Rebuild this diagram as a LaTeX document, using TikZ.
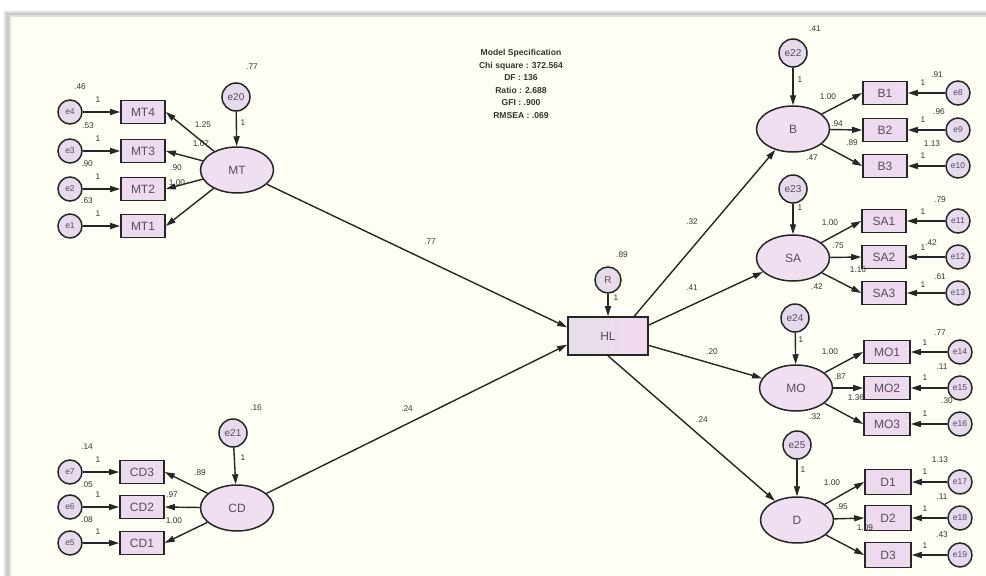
\documentclass[tikz,border=0pt]{standalone}
\usepackage{fontspec}
\setmainfont{Liberation Sans}
\usetikzlibrary{shapes.geometric,arrows.meta}
\definecolor{cream}{HTML}{FFFEF4}
\definecolor{latfill}{HTML}{F0DFF0}
\definecolor{obsfill}{HTML}{EEDAEE}
\definecolor{errfill}{HTML}{E6DAEC}
\definecolor{edgecol}{HTML}{262626}
\definecolor{txtcol}{HTML}{5A4A60}
\definecolor{lblcol}{HTML}{353535}
\definecolor{framegray}{HTML}{C9C9C9}
\definecolor{HLleft}{HTML}{E4DFE8}
\definecolor{HLright}{HTML}{F3D9F0}
\begin{document}
\begin{tikzpicture}[x=1pt,y=-1pt,
 lat/.style={ellipse,draw=edgecol,line width=1.5pt,fill=latfill,minimum width=73pt,minimum height=46pt,inner sep=0pt,text=txtcol,font=\fontsize{12}{12}\selectfont},
 obs/.style={rectangle,draw=edgecol,line width=1.6pt,fill=obsfill,minimum width=44pt,minimum height=23pt,inner sep=0pt,text=txtcol,font=\fontsize{12}{12}\selectfont},
 err/.style={circle,draw=edgecol,line width=1.5pt,fill=errfill,minimum size=24pt,inner sep=0pt,text=txtcol,font=\fontsize{8.5}{8.5}\selectfont},
 lerr/.style={err,minimum size=28pt,font=\fontsize{10}{10}\selectfont},
 lbl/.style={inner sep=0pt,text=lblcol,font=\fontsize{8.3}{8.3}\selectfont},
 arr/.style={draw=edgecol,line width=1.4pt,-{Triangle[length=10pt,width=6pt]}},
]
\useasboundingbox (0,0) rectangle (986,576);
% frame
\fill[white] (0,0) rectangle (986,576);
\fill[framegray!60] (4,11) rectangle (986,17);
\fill[framegray!60] (4,11) rectangle (11,576);
\fill[framegray] (6,13) rectangle (986,15);
\fill[framegray] (6,13) rectangle (9,576);
\fill[cream] (11,17) rectangle (986,576);

% model specification
\node[align=center,text=lblcol,font=\bfseries\fontsize{8.6}{12.6}\selectfont] (spec) at (521,84)
 {Model Specification\\Chi square : 372.564\\DF : 136\\Ratio : 2.688\\GFI : .900\\RMSEA : .069};

% ---------- MT ----------
\node[lerr] (e20) at (236,97) {e20};
\node[lat] (MT) at (237,170) {MT};
\node[obs] (MT4) at (143,112) {MT4};
\node[obs] (MT3) at (143,151) {MT3};
\node[obs] (MT2) at (143,189) {MT2};
\node[obs] (MT1) at (143,226) {MT1};
\node[err] (e4) at (70,112) {e4};
\node[err] (e3) at (70,151) {e3};
\node[err] (e2) at (70,189) {e2};
\node[err] (e1) at (70,226) {e1};
\draw[arr] (e20) -- (MT);
\foreach \i in {1,2,3,4}{
  \draw[arr] (e\i) -- (MT\i);
  \draw[arr] (MT) -- (MT\i.east);
}
\node[lbl] (v20) at (252,67) {.77};
\node[lbl] (o20) at (243,123) {1};
\node[lbl] (v4) at (80,87) {.46};
\node[lbl] (v3) at (88,126) {.53};
\node[lbl] (v2) at (87,164) {.90};
\node[lbl] (v1) at (87,201) {.63};
\node[lbl] (o4) at (98,100) {1};
\node[lbl] (o3) at (98,139) {1};
\node[lbl] (o2) at (98,177) {1};
\node[lbl] (o1) at (98,214) {1};
\node[lbl] (l4) at (203,125) {1.25};
\node[lbl] (l3) at (201,144) {1.07};
\node[lbl] (l2) at (176,168) {.90};
\node[lbl] (l1) at (177,183) {1.00};

% ---------- CD ----------
\node[lerr] (e21) at (233,433) {e21};
\node[lat] (CD) at (237,508) {CD};
\node[obs] (CD3) at (142,472) {CD3};
\node[obs] (CD2) at (142,507) {CD2};
\node[obs] (CD1) at (142,543) {CD1};
\node[err] (e7) at (70,472) {e7};
\node[err] (e6) at (70,507) {e6};
\node[err] (e5) at (70,543) {e5};
\draw[arr] (e21) -- (CD);
\draw[arr] (e7) -- (CD3);
\draw[arr] (e6) -- (CD2);
\draw[arr] (e5) -- (CD1);
\draw[arr] (CD) -- (CD3.east);
\draw[arr] (CD) -- (CD2.east);
\draw[arr] (CD) -- (CD1.east);
\node[lbl] (v21) at (256,408) {.16};
\node[lbl] (o21) at (243,458) {1};
\node[lbl] (v7) at (87,447) {.14};
\node[lbl] (v6) at (87,485) {.05};
\node[lbl] (v5) at (87,520) {.08};
\node[lbl] (o7) at (98,460) {1};
\node[lbl] (o6) at (98,495) {1};
\node[lbl] (o5) at (98,532) {1};
\node[lbl] (k3) at (200,473) {.89};
\node[lbl] (k2) at (172,495) {.97};
\node[lbl] (k1) at (174,521) {1.00};

% ---------- HL ----------
\node[rectangle,draw=edgecol,line width=1.6pt,left color=HLleft,right color=HLright,minimum width=80pt,minimum height=38pt,inner sep=0pt,text=txtcol,font=\fontsize{12}{12}\selectfont] (HL) at (608,336) {HL};
\node[err,minimum size=26pt,font=\fontsize{10}{10}\selectfont] (R) at (608,280) {R};
\draw[arr] (R) -- (HL);
\node[lbl] (vR) at (622,255) {.89};
\node[lbl] (oR) at (616,298) {1};

\draw[arr] (MT) -- (HL.168);
\draw[arr] (CD) -- (HL.192);
\node[lbl] (pMT) at (430,242) {.77};
\node[lbl] (pCD) at (407,409) {.24};

% ---------- B ----------
\node[lerr] (e22) at (793,53) {e22};
\node[lat] (B) at (793,129) {B};
\node[obs] (B1) at (885,93) {B1};
\node[obs] (B2) at (885,130) {B2};
\node[obs] (B3) at (885,166) {B3};
\node[err] (e8) at (958,93) {e8};
\node[err] (e9) at (958,130) {e9};
\node[err] (e10) at (958,166) {e10};
\draw[arr] (e22) -- (B);
\draw[arr] (B) -- (B1.west);
\draw[arr] (B) -- (B2.west);
\draw[arr] (B) -- (B3.west);
\draw[arr] (e8) -- (B1);
\draw[arr] (e9) -- (B2);
\draw[arr] (e10) -- (B3);
\node[lbl] (v22) at (815,29) {.41};
\node[lbl] (o22) at (800,80) {1};
\node[lbl] (b1) at (828,97) {1.00};
\node[lbl] (b2) at (837,124) {.94};
\node[lbl] (b3) at (852,143) {.89};
\node[lbl] (v8) at (937,75) {.91};
\node[lbl] (v9) at (939,112) {.96};
\node[lbl] (v10) at (932,144) {1.13};
\node[lbl] (o8) at (923,83) {1};
\node[lbl] (o9) at (923,120) {1};
\node[lbl] (o10) at (923,156) {1};

% ---------- SA ----------
\node[lerr] (e23) at (793,189) {e23};
\node[lat] (SA) at (793,258) {SA};
\node[obs] (SA1) at (884,221) {SA1};
\node[obs] (SA2) at (884,257) {SA2};
\node[obs] (SA3) at (884,293) {SA3};
\node[err] (e11) at (958,221) {e11};
\node[err] (e12) at (958,257) {e12};
\node[err] (e13) at (958,293) {e13};
\draw[arr] (e23) -- (SA);
\draw[arr] (SA) -- (SA1.west);
\draw[arr] (SA) -- (SA2.west);
\draw[arr] (SA) -- (SA3.west);
\draw[arr] (e11) -- (SA1);
\draw[arr] (e12) -- (SA2);
\draw[arr] (e13) -- (SA3);
\node[lbl] (v23) at (812,158) {.47};
\node[lbl] (o23) at (800,208) {1};
\node[lbl] (s1) at (830,223) {1.00};
\node[lbl] (s2) at (838,246) {.75};
\node[lbl] (s3) at (858,270) {1.16};
\node[lbl] (v11) at (940,200) {.79};
\node[lbl] (v12) at (931,243) {.42};
\node[lbl] (v13) at (940,277) {.61};
\node[lbl] (o11) at (923,212) {1};
\node[lbl] (o12) at (923,248) {1};
\node[lbl] (o13) at (923,285) {1};

% ---------- MO ----------
\node[lerr] (e24) at (795,318) {e24};
\node[lat] (MO) at (796,388) {MO};
\node[obs,minimum width=46pt] (MO1) at (887,352) {MO1};
\node[obs,minimum width=46pt] (MO2) at (887,388) {MO2};
\node[obs,minimum width=46pt] (MO3) at (887,424) {MO3};
\node[err] (e14) at (960,352) {e14};
\node[err] (e15) at (960,388) {e15};
\node[err] (e16) at (960,424) {e16};
\draw[arr] (e24) -- (MO);
\draw[arr] (MO) -- (MO1.west);
\draw[arr] (MO) -- (MO2.west);
\draw[arr] (MO) -- (MO3.west);
\draw[arr] (e14) -- (MO1);
\draw[arr] (e15) -- (MO2);
\draw[arr] (e16) -- (MO3);
\node[lbl] (v24) at (817,287) {.42};
\node[lbl] (o24) at (801,340) {1};
\node[lbl] (m1) at (830,352) {1.00};
\node[lbl] (m2) at (840,377) {.87};
\node[lbl] (m3) at (856,398) {1.36};
\node[lbl] (v14) at (940,333) {.77};
\node[lbl] (v15) at (942,367) {.11};
\node[lbl] (v16) at (947,401) {.30};
\node[lbl] (o14) at (925,343) {1};
\node[lbl] (o15) at (925,378) {1};
\node[lbl] (o16) at (925,414) {1};

% ---------- D ----------
\node[lerr] (e25) at (797,445) {e25};
\node[lat] (D) at (797,520) {D};
\node[obs,minimum width=46pt,minimum height=25pt] (D1) at (888,482) {D1};
\node[obs,minimum width=46pt,minimum height=25pt] (D2) at (888,518) {D2};
\node[obs,minimum width=46pt,minimum height=25pt] (D3) at (888,555) {D3};
\node[err] (e17) at (960,482) {e17};
\node[err] (e18) at (960,518) {e18};
\node[err] (e19) at (960,555) {e19};
\draw[arr] (e25) -- (D);
\draw[arr] (D) -- (D1.west);
\draw[arr] (D) -- (D2.west);
\draw[arr] (D) -- (D3.west);
\draw[arr] (e17) -- (D1);
\draw[arr] (e18) -- (D2);
\draw[arr] (e19) -- (D3);
\node[lbl] (v25) at (815,417) {.32};
\node[lbl] (o25) at (803,470) {1};
\node[lbl] (d1) at (832,483) {1.00};
\node[lbl] (d2) at (842,507) {.95};
\node[lbl] (d3) at (865,528) {1.09};
\node[lbl] (v17) at (940,460) {1.13};
\node[lbl] (v18) at (942,497) {.11};
\node[lbl] (v19) at (942,535) {.43};
\node[lbl] (o17) at (925,472) {1};
\node[lbl] (o18) at (925,509) {1};
\node[lbl] (o19) at (925,546) {1};

% ---------- structural paths ----------
\draw[arr] (HL.37) -- (B);
\draw[arr] (HL.15) -- (SA);
\draw[arr] (HL.-13) -- (MO);
\draw[arr] (HL.south) -- (D);
\node[lbl] (pB) at (692,222) {.32};
\node[lbl] (pSA) at (692,288) {.41};
\node[lbl] (pMO) at (712,352) {.20};
\node[lbl] (pD) at (702,420) {.24};
\end{tikzpicture}
\end{document}
